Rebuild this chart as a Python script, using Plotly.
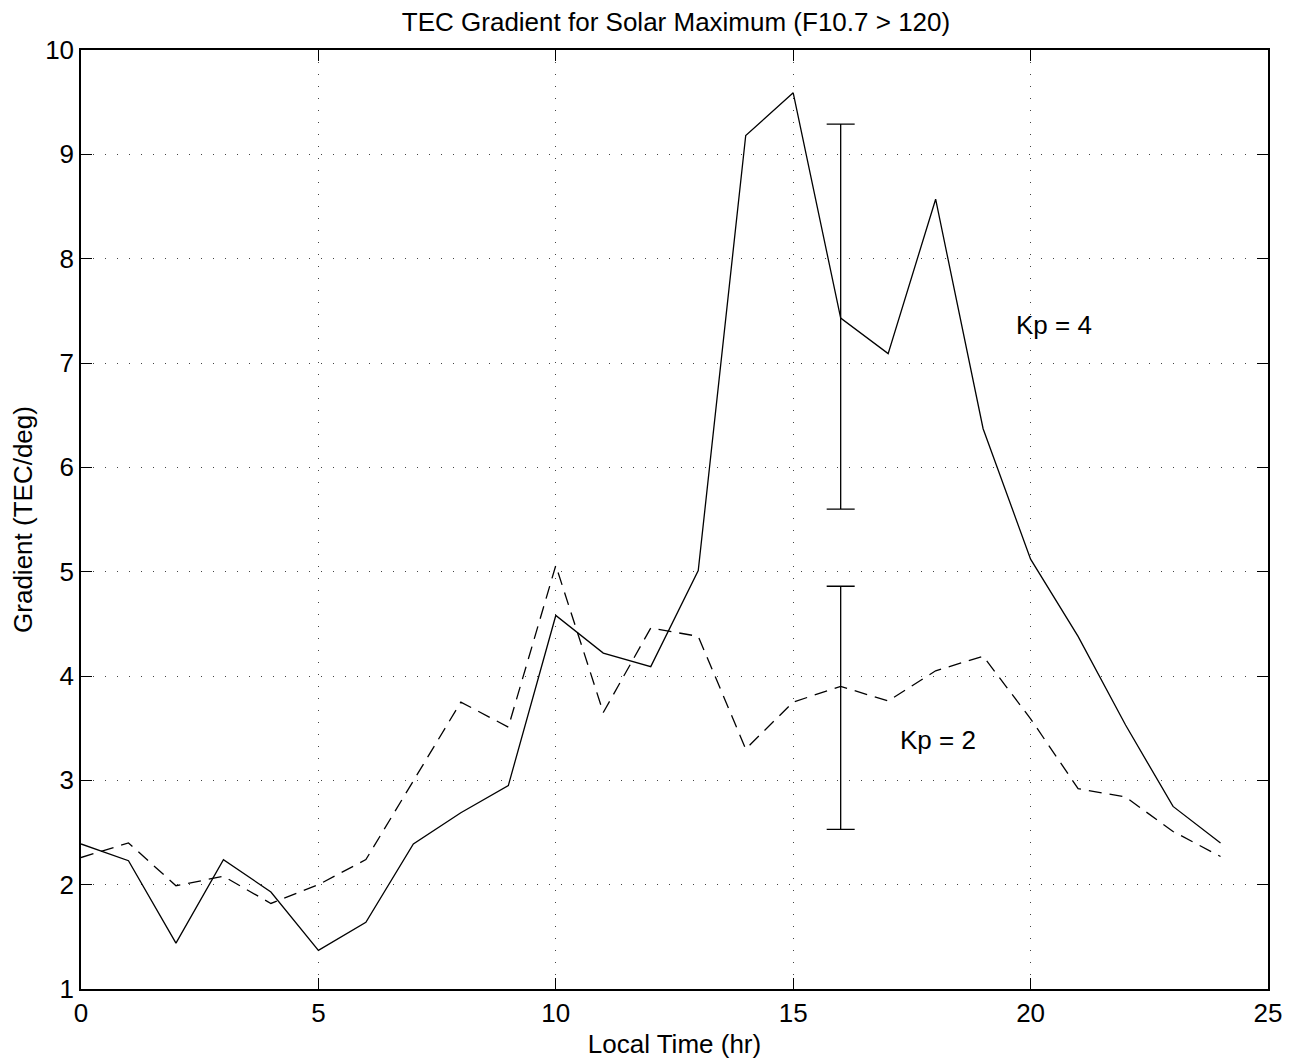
import plotly.graph_objects as go

local_time = list(range(0, 25))
kp4 = [2.39, 2.23, 1.44, 2.24, 1.93, 1.37, 1.64, 2.39, 2.69, 2.95, 4.58, 4.22, 4.09,
       5.01, 9.18, 9.59, 7.43, 7.09, 8.57, 6.37, 5.12, 4.38, 3.53, 2.75, 2.40]
kp2 = [2.26, 2.40, 1.99, 2.08, 1.82, 2.00, 2.24, 3.00, 3.75, 3.51, 5.06, 3.65, 4.46,
       4.38, 3.30, 3.75, 3.90, 3.76, 4.05, 4.19, 3.59, 2.92, 2.84, 2.51, 2.27]

err_x = [16, 16]
err_top = [9.29, 4.86]
err_bottom = [5.60, 2.53]
err_mid = [(a + b) / 2 for a, b in zip(err_top, err_bottom)]
err_half = [(a - b) / 2 for a, b in zip(err_top, err_bottom)]

FONT = "Liberation Sans, Arial, Helvetica, sans-serif"
FS = 26

fig = go.Figure()
fig.add_trace(go.Scatter(x=local_time, y=kp4, mode="lines",
                         line=dict(color="black", width=1.3), showlegend=False))
fig.add_trace(go.Scatter(x=local_time, y=kp2, mode="lines",
                         line=dict(color="black", width=1.3, dash="13px,8px"), showlegend=False))
fig.add_trace(go.Scatter(x=err_x, y=err_mid, mode="lines",
                         line=dict(color="rgba(0,0,0,0)", width=0),
                         error_y=dict(type="data", array=err_half, symmetric=True,
                                      color="black", thickness=1.3, width=14),
                         showlegend=False, hoverinfo="skip"))

fig.add_annotation(x=20.5, y=7.36, text="Kp = 4", showarrow=False,
                   font=dict(family=FONT, size=FS, color="black"))
fig.add_annotation(x=18.06, y=3.39, text="Kp = 2", showarrow=False,
                   font=dict(family=FONT, size=FS, color="black"))

axis_common = dict(
    showline=True, linecolor="black", linewidth=1.5, mirror="ticks",
    ticks="inside", ticklen=11, tickwidth=1, tickcolor="black",
    showgrid=True, gridcolor="#444", gridwidth=1, griddash="1px,11px",
    zeroline=False, automargin=False,
    tickfont=dict(family=FONT, size=FS, color="black"),
)

fig.update_xaxes(range=[0, 25], tickmode="array", tickvals=[0, 5, 10, 15, 20, 25],
                 title=dict(text="Local Time (hr)", font=dict(family=FONT, size=FS, color="black"),
                            standoff=8),
                 **axis_common)
fig.update_yaxes(range=[1, 10], tickmode="array", tickvals=list(range(1, 11)),
                 title=dict(text="Gradient (TEC/deg)", font=dict(family=FONT, size=FS, color="black"),
                            standoff=9),
                 **axis_common)

fig.update_layout(
    width=1303, height=1063,
    margin=dict(l=73, r=43, t=42, b=82),
    paper_bgcolor="white", plot_bgcolor="white",
    title=dict(text="TEC Gradient for Solar Maximum (F10.7 > 120)", x=(676 - 8) / 1303, xanchor="center",
               y=1 - 14 / 1063, yanchor="middle",
               font=dict(family=FONT, size=FS, color="black")),
    showlegend=False,
)

fig.write_html("out.html")
